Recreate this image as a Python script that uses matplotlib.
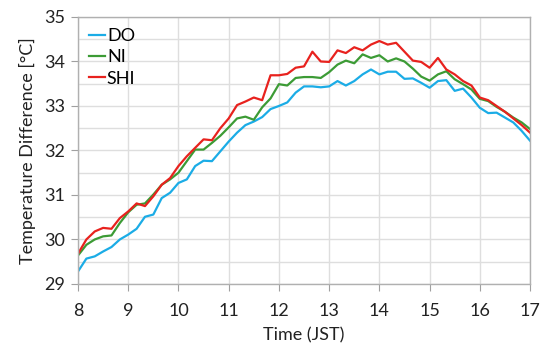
import numpy as np
import matplotlib
matplotlib.use("Agg")
import matplotlib.pyplot as plt

hours = np.arange(8*60, 17*60 + 1, 10) / 60.0  # 10-minute steps

DO = [29.28, 29.57, 29.62, 29.73, 29.83, 30.0, 30.11, 30.24, 30.51, 30.56,
      30.93, 31.05, 31.27, 31.35, 31.65, 31.77, 31.76, 31.98, 32.2, 32.4,
      32.57, 32.65, 32.75, 32.93, 33.0, 33.08, 33.3, 33.44, 33.44, 33.42,
      33.44, 33.56, 33.46, 33.56, 33.71, 33.82, 33.71, 33.77, 33.77, 33.61,
      33.62, 33.52, 33.41, 33.56, 33.58, 33.34, 33.39, 33.19, 32.96, 32.84,
      32.85, 32.74, 32.63, 32.44, 32.22]
NI = [29.64, 29.88, 30.0, 30.07, 30.09, 30.37, 30.61, 30.78, 30.81, 31.01,
      31.23, 31.35, 31.5, 31.76, 32.02, 32.02, 32.17, 32.33, 32.52, 32.72,
      32.76, 32.69, 32.97, 33.17, 33.49, 33.46, 33.63, 33.65, 33.65, 33.63,
      33.76, 33.93, 34.02, 33.96, 34.16, 34.08, 34.14, 34.0, 34.07, 34.0,
      33.84, 33.66, 33.57, 33.71, 33.78, 33.6, 33.49, 33.37, 33.16, 33.11,
      32.98, 32.87, 32.74, 32.63, 32.48]
SHI = [29.68, 30.0, 30.18, 30.26, 30.24, 30.48, 30.63, 30.81, 30.75, 30.97,
       31.23, 31.38, 31.65, 31.87, 32.06, 32.25, 32.23, 32.5, 32.72, 33.02,
       33.1, 33.19, 33.13, 33.69, 33.69, 33.72, 33.86, 33.89, 34.22, 34.0,
       33.99, 34.25, 34.19, 34.32, 34.25, 34.38, 34.46, 34.38, 34.42, 34.22,
       34.02, 33.99, 33.86, 34.08, 33.82, 33.71, 33.56, 33.46, 33.19, 33.13,
       33.0, 32.87, 32.72, 32.57, 32.4]

x_ticks = list(range(8, 18))
y_ticks = list(range(29, 36))

plt.rcParams['font.family'] = ['Lato', 'DejaVu Sans']

fig = plt.figure(figsize=(5.47, 3.51), dpi=100)
ax = fig.add_axes([0.1426, 0.191, 0.969 - 0.1426, 0.9516 - 0.191])

ax.plot(hours, DO, color='#1BACE6', lw=1.6, label='DO')
ax.plot(hours, NI, color='#3C9B35', lw=1.6, label='NI')
ax.plot(hours, SHI, color='#E8221E', lw=1.6, label='SHI')

ax.set_xlim(8, 17)
ax.set_ylim(29, 35)
ax.set_xticks(x_ticks)
ax.set_yticks(y_ticks)
ax.set_yticks(np.arange(29, 35.01, 0.5), minor=True)
ax.grid(True, which='major', color='#dedede', lw=1.0)
ax.grid(True, which='minor', axis='y', color='#dedede', lw=1.0)
ax.tick_params(axis='y', which='minor', length=0)
ax.tick_params(axis='both', which='major', color='#a0a0a0',
               labelsize=13, labelcolor='#222222')
ax.tick_params(axis='x', which='major', length=5, pad=9)
ax.tick_params(axis='y', which='major', length=5, pad=4)
for s in ax.spines.values():
    s.set_color('#b0b0b0')
    s.set_linewidth(1.0)
ax.set_axisbelow(True)

ax.set_xlabel('Time (JST)', fontsize=13, color='#222222', labelpad=6)
ax.set_ylabel('Temperature Difference [°C]', fontsize=13, color='#222222', labelpad=6)

leg = ax.legend(loc='upper left', frameon=False, fontsize=13, handlelength=0.9,
                handletextpad=0.1, borderaxespad=0.2, labelspacing=0.3,
                bbox_to_anchor=(0.0, 1.0))

fig.savefig('out.png', dpi=100)
